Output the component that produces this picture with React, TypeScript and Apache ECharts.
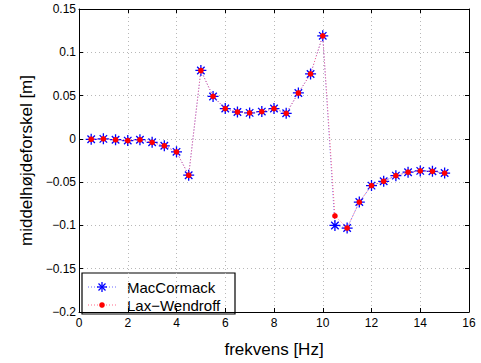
import React, { useEffect, useRef } from "react";
import * as echarts from "echarts";

const freqs = [0.5, 1, 1.5, 2, 2.5, 3, 3.5, 4, 4.5, 5, 5.5, 6, 6.5, 7, 7.5, 8, 8.5, 9, 9.5, 10, 10.5, 11, 11.5, 12, 12.5, 13, 13.5, 14, 14.5, 15];
const macCormack = [-0.0005, 0, -0.001, -0.002, -0.001, -0.004, -0.008, -0.015, -0.042, 0.079, 0.049, 0.035, 0.031, 0.030, 0.0315, 0.035, 0.0295, 0.053, 0.075, 0.119, -0.100, -0.103, -0.073, -0.054, -0.049, -0.0425, -0.0385, -0.037, -0.0375, -0.0395];
const laxWendroff = [-0.0005, 0, -0.001, -0.002, -0.001, -0.004, -0.008, -0.015, -0.042, 0.079, 0.049, 0.035, 0.031, 0.030, 0.0315, 0.035, 0.0295, 0.053, 0.075, 0.119, -0.089, -0.103, -0.073, -0.054, -0.049, -0.0425, -0.0385, -0.037, -0.0375, -0.0395];
const seriesNames = ["MacCormack", "Lax\u2212Wendroff"];
const xTitle = "frekvens [Hz]";
const yTitle = "middelhøjdeforskel [m]";

const FONT = "'Liberation Sans', Arial, Helvetica, sans-serif";
const ASTERISK = "path://M0,5L10,5M5,0L5,10M1.6,1.6L8.4,8.4M1.6,8.4L8.4,1.6";
const BLUE = "#0000ff";
const RED = "#ff0000";
const BLUE_LINE = "#6a6aff";
const RED_LINE = "#ff6a8a";

const fmtY = (v: number) => {
  const s = String(parseFloat(v.toFixed(3)));
  return s.replace("-", "\u2212");
};

function asteriskGroup(cx: number, cy: number, r: number) {
  const d = r * 0.7;
  const st = { stroke: BLUE, lineWidth: 1.3 };
  return {
    type: "group",
    children: [
      { type: "line", shape: { x1: cx - r, y1: cy, x2: cx + r, y2: cy }, style: st },
      { type: "line", shape: { x1: cx, y1: cy - r, x2: cx, y2: cy + r }, style: st },
      { type: "line", shape: { x1: cx - d, y1: cy - d, x2: cx + d, y2: cy + d }, style: st },
      { type: "line", shape: { x1: cx - d, y1: cy + d, x2: cx + d, y2: cy - d }, style: st },
    ],
  };
}

export default function App() {
  const ref = useRef<HTMLDivElement>(null);
  useEffect(() => {
    if (!ref.current) return;
    const chart = echarts.init(ref.current, undefined, { renderer: "svg" });
    const grid = { left: 79, top: 9, width: 390, height: 309 };
    const tickStyle = { show: true, inside: true, length: 4, lineStyle: { color: "#000", width: 1 } };
    const lineStyle = { color: "#000", width: 1 };
    const splitLine = { show: true, lineStyle: { color: "#b8b8b8", width: 1, type: [1, 3] as any } };
    const lx = 82, ly = 273, lw = 153, lh = 41;
    const row1 = 287, row2 = 305;
    chart.setOption({
      animation: false,
      backgroundColor: "#fff",
      grid,
      xAxis: [
        {
          type: "value", min: 0, max: 16, interval: 2, position: "bottom",
          axisLine: { show: true, onZero: false, lineStyle }, axisTick: tickStyle, splitLine,
          axisLabel: { fontFamily: FONT, fontSize: 12, color: "#000", margin: 5 },
          name: xTitle, nameLocation: "middle", nameGap: 29,
          nameTextStyle: { fontFamily: FONT, fontSize: 17, color: "#000" },
        },
        {
          type: "value", min: 0, max: 16, interval: 2, position: "top",
          axisLine: { show: true, onZero: false, lineStyle }, axisTick: tickStyle, splitLine: { show: false },
          axisLabel: { show: false },
        },
      ],
      yAxis: [
        {
          type: "value", min: -0.2, max: 0.15, interval: 0.05, position: "left",
          axisLine: { show: true, onZero: false, lineStyle }, axisTick: tickStyle, splitLine,
          axisLabel: { fontFamily: FONT, fontSize: 12, color: "#000", margin: 3, formatter: fmtY },
          name: yTitle, nameLocation: "middle", nameGap: 44,
          nameTextStyle: { fontFamily: FONT, fontSize: 17, color: "#000" },
        },
        {
          type: "value", min: -0.2, max: 0.15, interval: 0.05, position: "right",
          axisLine: { show: true, onZero: false, lineStyle }, axisTick: tickStyle, splitLine: { show: false },
          axisLabel: { show: false },
        },
      ],
      graphic: [
        {
          type: "group", z: 100,
          children: [
            { type: "rect", shape: { x: lx, y: ly, width: lw, height: lh }, style: { fill: "#fff", stroke: "#000", lineWidth: 1.2 } },
            { type: "line", shape: { x1: 88, y1: row1, x2: 116, y2: row1 }, style: { stroke: BLUE_LINE, lineWidth: 1, lineDash: [1, 2] } },
            asteriskGroup(102, row1, 5),
            { type: "text", x: 127, y: row1, style: { text: seriesNames[0], font: `15px ${FONT}`, fill: "#000", verticalAlign: "middle", align: "left" } },
            { type: "line", shape: { x1: 88, y1: row2, x2: 116, y2: row2 }, style: { stroke: RED_LINE, lineWidth: 1, lineDash: [1, 2] } },
            { type: "circle", shape: { cx: 102, cy: row2, r: 2.8 }, style: { fill: RED } },
            { type: "text", x: 127, y: row2, style: { text: seriesNames[1], font: `15px ${FONT}`, fill: "#000", verticalAlign: "middle", align: "left" } },
          ],
        },
      ],
      series: [
        {
          name: seriesNames[0], type: "line",
          data: freqs.map((f, i) => [f, macCormack[i]]),
          symbol: ASTERISK, symbolSize: 11,
          itemStyle: { color: "rgba(0,0,0,0)", borderColor: BLUE, borderWidth: 1.3 },
          lineStyle: { color: BLUE_LINE, width: 1, type: [1, 2] },
          z: 2,
        },
        {
          name: seriesNames[1], type: "line",
          data: freqs.map((f, i) => [f, laxWendroff[i]]),
          symbol: "circle", symbolSize: 5.6,
          itemStyle: { color: RED, borderWidth: 0 },
          lineStyle: { color: RED_LINE, width: 1, type: [1, 2] },
          z: 3,
        },
      ],
    });
    return () => chart.dispose();
  }, []);
  return (
    <div
      ref={ref}
      style={{ position: "absolute", left: 0, top: 0, width: 481, height: 363, background: "#fff" }}
    />
  );
}
